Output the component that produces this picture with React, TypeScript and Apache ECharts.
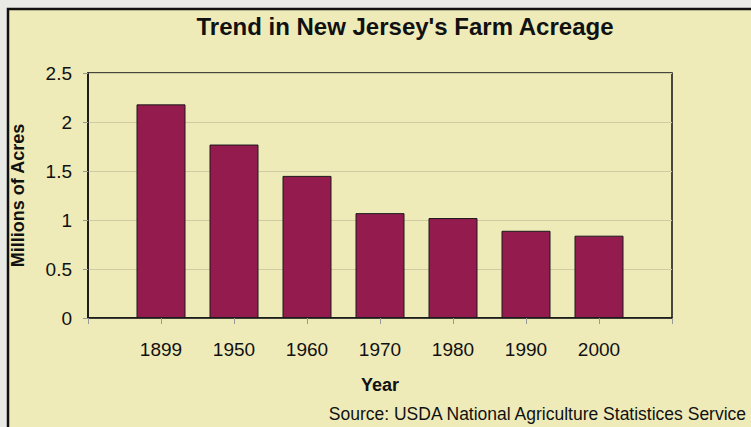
import React, { useEffect, useRef } from "react";
import * as echarts from "echarts";

const categories = ["", "1899", "1950", "1960", "1970", "1980", "1990", "2000", ""];
const acres = [null, 2.18, 1.77, 1.45, 1.07, 1.02, 0.89, 0.84, null];
const yTicks = { min: 0, max: 2.5, interval: 0.5 };
const titleText = "Trend in New Jersey's Farm Acreage";
const sourceText = "Source: USDA National Agriculture Statistices Service";

const FONT = "'Liberation Sans', Arial, sans-serif";

export default function App() {
  const ref = useRef<HTMLDivElement>(null);
  useEffect(() => {
    if (!ref.current) return;
    const chart = echarts.init(ref.current, null, { renderer: "svg" });
    chart.setOption({
      animation: false,
      backgroundColor: "#E9E9E6",
      textStyle: { fontFamily: FONT },
      graphic: [
        {
          type: "rect",
          z: -10,
          shape: { x: 8, y: 9, width: 760, height: 430 },
          style: { fill: "#EEEBB9", stroke: "#111", lineWidth: 2.5 },
        },
        {
          type: "text",
          right: 3,
          top: 405,
          style: { text: sourceText, fill: "#111", fontSize: 17.5, fontFamily: FONT },
        },
      ],
      title: {
        text: titleText,
        left: 400,
        textAlign: "center",
        top: 9,
        textStyle: { fontSize: 24, fontWeight: "bold", color: "#111", fontFamily: FONT },
      },
      grid: {
        left: 88,
        top: 73,
        right: 79,
        bottom: 109,
        show: true,
        borderColor: "#111",
        borderWidth: 1.5,
        backgroundColor: "transparent",
      },
      xAxis: {
        type: "category",
        data: categories,
        boundaryGap: false,
        axisLine: { lineStyle: { color: "#111", width: 1.5 } },
        axisTick: { show: true, length: 6, lineStyle: { color: "#999" } },
        axisLabel: { margin: 22, fontSize: 19, color: "#111", fontFamily: FONT },
        name: "Year",
        nameLocation: "middle",
        nameGap: 58,
        nameTextStyle: { fontSize: 18, fontWeight: "bold", color: "#111", fontFamily: FONT },
      },
      yAxis: {
        type: "value",
        min: yTicks.min,
        max: yTicks.max,
        interval: yTicks.interval,
        axisLine: { show: true, lineStyle: { color: "#111", width: 1.5 } },
        axisTick: { show: true, length: 5, lineStyle: { color: "#999" } },
        axisLabel: { margin: 16, fontSize: 19, color: "#111", fontFamily: FONT },
        splitLine: { show: true, lineStyle: { color: "#CFCBA3", width: 1 } },
        name: "Millions of Acres",
        nameLocation: "middle",
        nameRotate: 90,
        nameGap: 61,
        nameTextStyle: { fontSize: 18, fontWeight: "bold", color: "#111", fontFamily: FONT },
      },
      series: [
        {
          type: "bar",
          data: acres,
          barWidth: 49,
          itemStyle: { color: "#931B4E", borderColor: "#1a1a1a", borderWidth: 1 },
        },
      ],
    });
    return () => chart.dispose();
  }, []);
  return (
    <div
      ref={ref}
      style={{ position: "fixed", left: 0, top: 0, width: 751, height: 427 }}
    />
  );
}
